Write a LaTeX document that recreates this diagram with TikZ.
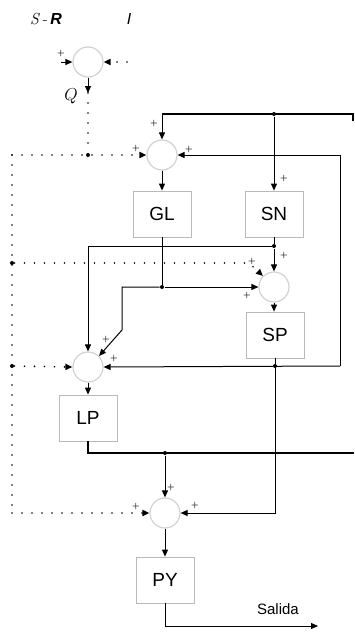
\documentclass[tikz,border=0pt]{standalone}
\usepackage{fontspec}
\setsansfont{Liberation Sans}
\usetikzlibrary{arrows.meta}
\begin{document}
\begin{tikzpicture}[x=1pt,y=-1pt,
  line width=1pt,
  sumc/.style={circle, draw=gray!35, line width=1.2pt, minimum size=30pt, inner sep=0pt, fill=white},
  blockbox/.style={rectangle, draw=gray!55, line width=0.8pt, minimum width=58pt, minimum height=46pt, inner sep=0pt, font=\fontsize{19}{19}\selectfont\sffamily},
  arr/.style={-{Triangle[length=7pt,width=6pt]}},
  thickline/.style={line width=1.6pt},
  dotline/.style={line width=1.9pt, dash pattern=on 0pt off 10pt, line cap=round},
  jdot/.style={circle, fill=black, inner sep=0pt, minimum size=4pt},
  plus/.style={inner sep=0pt, font=\fontsize{8}{8}\selectfont\bfseries}
]
\useasboundingbox (0,0) rectangle (354,632);

% top labels
\node[font=\fontsize{16}{16}\selectfont] (SR) at (46,19) {\textit{S}\,-\,{\sffamily\bfseries\itshape R}};
\node[font=\fontsize{16}{16}\selectfont\sffamily\itshape] (I) at (129,19) {I};

% top summing circle
\node[sumc] (T) at (88,62) {};
\coordinate (Tl) at (61,62);
\coordinate (Tr) at (127,62);
\draw[arr] (Tl) -- (T.west);
\draw[dotline,arr] (Tr) -- (T.east);
\coordinate (Qa) at (88,93);
\draw[arr] (T.south) -- (Qa);
\node[font=\fontsize{18}{18}\selectfont] (Q) at (71,96) {$Q$};
\node[jdot] (J1) at (88,155) {};
\draw[dotline] (Qa) -- (J1);

% nodes
\node[sumc] (C1) at (162,155) {};
\node[blockbox] (GL) at (162,214) {GL};
\node[blockbox] (SN) at (274,214) {SN};
\node[sumc] (C3) at (274,287) {};
\node[blockbox] (SP) at (275,335) {SP};
\node[sumc] (C4) at (88,367) {};
\node[blockbox] (LP) at (88,418) {LP};
\node[sumc] (C5) at (165,513) {};
\node[blockbox] (PY) at (165,580) {PY};

% left dotted bus
\coordinate (L1) at (12,155);
\coordinate (L5) at (12,513);
\node[jdot] (L2) at (12,263) {};
\node[jdot] (L3) at (12,366) {};
\coordinate (L2e) at (249,263);
\draw[dotline] (L1) -- (L5);
\draw[dotline,arr] (L1) -- (C1.west);
\draw[dotline,arr] (L2) -- (L2e) -- (C3.north west);
\draw[dotline,arr] (L3) -- (C4.west);
\draw[dotline,arr] (L5) -- (C5.west);

% top line
\coordinate (top1) at (162,114);
\coordinate (top2) at (353,114);
\coordinate (top3) at (353,121);
\node[jdot] (J2) at (274,114) {};
\draw[line width=1.3pt] (top3) -- (top2) -- (top1);
\draw[arr] (top1) -- (C1.north);
\draw[arr] (J2) -- (SN.north);

% right feedback loop
\coordinate (R1) at (340,155);
\coordinate (R2) at (340,366);
\draw[arr] (R2) -- (R1) -- (C1.east);
\draw[arr] (R2) -- (C4.east);
\node[jdot] (J5) at (275,366) {};

\draw[arr] (C1.south) -- (GL.north);

% SN output
\node[jdot] (J3) at (274,246) {};
\coordinate (K1) at (88,246);
\draw (SN.south) -- (J3);
\draw[arr] (J3) -- (C3.north);
\draw[arr] (J3) -- (K1) -- (C4.north);

% GL output
\node[jdot] (J4) at (162,287) {};
\coordinate (K2) at (122,287);
\coordinate (K3) at (122,330);
\draw (GL.south) -- (J4);
\draw[arr] (J4) -- (C3.west);
\draw[arr] (J4) -- (K2) -- (K3) -- (C4.north east);

\draw[arr] (C3.south) -- (C3.south |- SP.north);

% SP output
\coordinate (K4) at (275,513);
\draw[arr] (SP.south) -- (K4) -- (C5.east);

% LP
\draw[arr] (C4.south) -- (LP.north);
\coordinate (K5) at (88,453);
\coordinate (K6) at (354,453);
\draw[thickline] (LP.south) -- (K5) -- (K6);
\node[jdot] (J6) at (165,453) {};
\draw[arr] (J6) -- (C5.north);

% PY
\draw[arr] (C5.south) -- (PY.north);
\coordinate (K7) at (165,626);
\coordinate (K8) at (318,626);
\draw[arr] (PY.south) -- (K7) -- (K8);
\node[font=\fontsize{15}{15}\selectfont\sffamily] (Salida) at (278,609) {Salida};

% plus signs
\node[plus] (p1) at (61,53) {+};
\node[plus] (p2) at (154,123) {+};
\node[plus] (p3) at (136,148) {+};
\node[plus] (p4) at (189,149) {+};
\node[plus] (p5) at (284,178) {+};
\node[plus] (p6) at (284,255) {+};
\node[plus] (p7) at (252,261) {+};
\node[plus] (p8) at (247,295) {+};
\node[plus] (p9) at (106,339) {+};
\node[plus] (p10) at (114,358) {+};
\node[plus] (p11) at (171,487) {+};
\node[plus] (p12) at (136,506) {+};
\node[plus] (p13) at (195,505) {+};
\end{tikzpicture}
\end{document}
